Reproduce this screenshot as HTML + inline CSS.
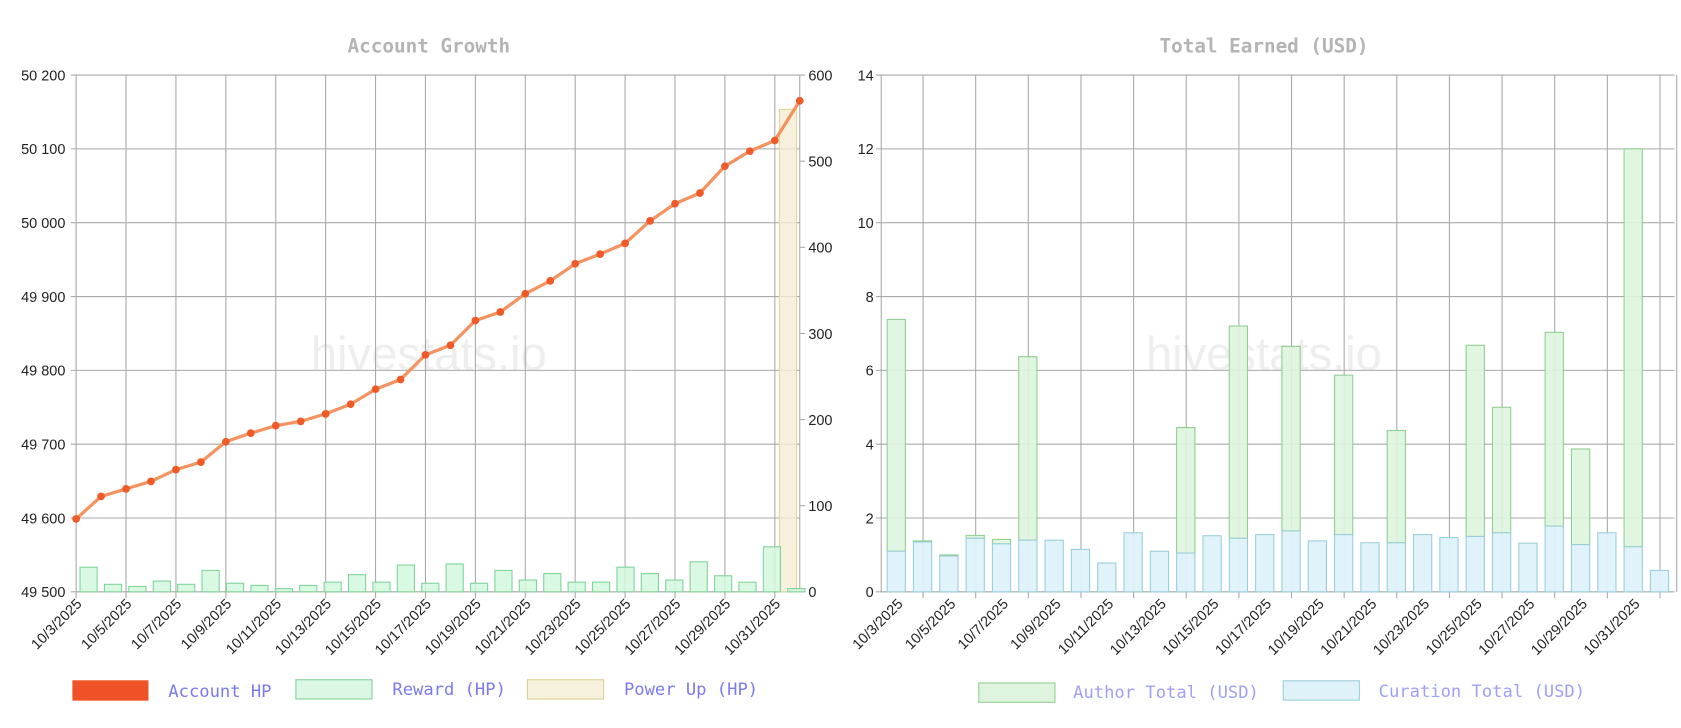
<!DOCTYPE html>
<html><head><meta charset="utf-8"><style>
html,body{margin:0;padding:0;background:#fff;}
svg{display:block}
</style></head><body>
<svg id="s" width="1681" height="728" viewBox="0 0 1568 679" preserveAspectRatio="none" xmlns="http://www.w3.org/2000/svg"></svg>
<script>
var S=[];
function L(x1,y1,x2,y2,c,w){S.push('<line x1="'+x1+'" y1="'+y1+'" x2="'+x2+'" y2="'+y2+'" stroke="'+c+'" stroke-width="'+(w||1)+'"/>');}
function R(x,y,w,h,f,s){S.push('<rect x="'+x+'" y="'+y+'" width="'+w+'" height="'+h+'" fill="'+f+'" stroke="'+s+'" stroke-width="1"/>');}
function T(x,y,t,o){S.push('<text x="'+x+'" y="'+y+'" '+(o||'')+'>'+t+'</text>');}
var G='#a8a8a8';
var TF='font-family="Liberation Sans,sans-serif" font-size="13.5" fill="#222"';
var MF='font-family="DejaVu Sans Mono,Liberation Mono,monospace" font-size="16"';
var HF='font-family="DejaVu Sans Mono,Liberation Mono,monospace" font-size="18" font-weight="bold" fill="#b4b4b4" text-anchor="middle"';
// ===== LEFT =====
var X0=71,XR=746,YT=70,YB=552;
T(400,49,'Account Growth',HF);
T(400,345,'hivestats.io','font-family="Liberation Sans,sans-serif" font-size="44" fill="#eeeeee" text-anchor="middle"');
var lab=['50 200','50 100','50 000','49 900','49 800','49 700','49 600','49 500'];
for(var i=0;i<=7;i++){var y=YT+i*(YB-YT)/7;L(X0-5,y,XR,y,G);T(61,y+5,lab[i],TF+' text-anchor="end"');}
for(var i=0;i<=6;i++){var y=YB-i*(YB-YT)/6;L(XR,y,XR+5,y,G);T(754,y+5,i*100,TF);}
var step=(XR-X0)/29;
var days=[3,5,7,9,11,13,15,17,19,21,23,25,27,29,31];
for(var k=0;k<15;k++){var x=X0+k*2*step;L(x,YT,x,YB+6,G);
 S.push('<text transform="translate('+(x+6)+','+(YB+12)+') rotate(-45)" '+TF+' text-anchor="end">10/'+days[k]+'/2025</text>');}
L(XR,YT,XR,YB,G);
var rw=[529,545,547,542,545,532,544,546,549,546,543,536,543,527,544,526,544,532,541,535,543,543,529,535,541,524,537,543,510,549];
R(727,102,16,YB-102,'rgba(245,238,210,0.8)','#e0d49a');
for(var i=0;i<30;i++){var c=X0+step/2+i*(step*0.978);R(c-8,rw[i],16,YB-rw[i],'rgba(210,248,222,0.85)','#7fd39a');}
var ly=[484,463,456,449,438,431,412,404,397,393,386,377,363,354,331,322,299,291,274,262,246,237,227,206,190,180,155,141,131,94];
var p='';for(var i=0;i<30;i++)p+=(i?'L':'M')+(X0+i*step)+' '+ly[i];
S.push('<path d="'+p+'" fill="none" stroke="#f49260" stroke-width="3"/>');
for(var i=0;i<30;i++)S.push('<circle cx="'+(X0+i*step)+'" cy="'+ly[i]+'" r="3.6" fill="#f05a28"/>');
R(68,635,70,18,'#f05228','#f05228');
T(157,650,'Account HP',MF+' fill="#7a7af0"');
R(276,634,71,18,'#dcf8e4','#7fd39a');
T(366,648,'Reward (HP)',MF+' fill="#7a7af0"');
R(492,634,71,18,'#f6f1dc','#dccf94');
T(582,648,'Power Up (HP)',MF+' fill="#7a7af0"');
// ===== RIGHT =====
var RX0=822,RXR=1562;
T(1179,49,'Total Earned (USD)',HF);
T(1179,345,'hivestats.io','font-family="Liberation Sans,sans-serif" font-size="44" fill="#eeeeee" text-anchor="middle"');
for(var i=0;i<=7;i++){var y=YT+i*(YB-YT)/7;L(RX0-5,y,RXR,y,G);T(815,y+5,14-2*i,TF+' text-anchor="end"');}
L(RX0,YT,RX0,YB,G);
for(var k=0;k<15;k++){var x=861+k*49.1;L(x,YT,x,YB+6,G);}
L(1564,YT,1564,YB,G);
var bs=24.55;
for(var k=0;k<15;k++){var x=836+k*2*bs;S.push('<text transform="translate('+(x+7)+','+(YB+12)+') rotate(-45)" '+TF+' text-anchor="end">10/'+days[k]+'/2025</text>');}
var cu=[1.1,1.35,0.97,1.45,1.3,1.4,1.4,1.15,0.78,1.6,1.1,1.05,1.52,1.45,1.55,1.65,1.38,1.55,1.33,1.33,1.55,1.47,1.5,1.6,1.32,1.78,1.28,1.6,1.22,0.58];
var tot=[7.38,1.38,1.0,1.53,1.42,6.37,1.4,1.15,0.78,1.6,1.1,4.45,1.52,7.2,1.55,6.65,1.38,5.87,1.33,4.37,1.55,1.47,6.68,5.0,1.32,7.03,3.87,1.6,12.0,0.58];
var u=(YB-YT)/14;
for(var i=0;i<30;i++){var c=836+i*bs;
 R(c-8.5,YB-tot[i]*u,17,(tot[i]-cu[i])*u,'rgba(222,245,222,0.9)','#8fcf8f');
 R(c-8.5,YB-cu[i]*u,17,cu[i]*u,'rgba(222,242,250,0.95)','#98cfd8');}
R(913,637,71,18,'#dff4df','#8fcf8f');
T(1001,651,'Author Total (USD)',MF+' fill="#a0a0f4"');
R(1197,635,71,18,'#dff2f9','#98cfd8');
T(1286,650,'Curation Total (USD)',MF+' fill="#a0a0f4"');
document.getElementById('s').innerHTML=S.join('');
</script>
</body></html>
